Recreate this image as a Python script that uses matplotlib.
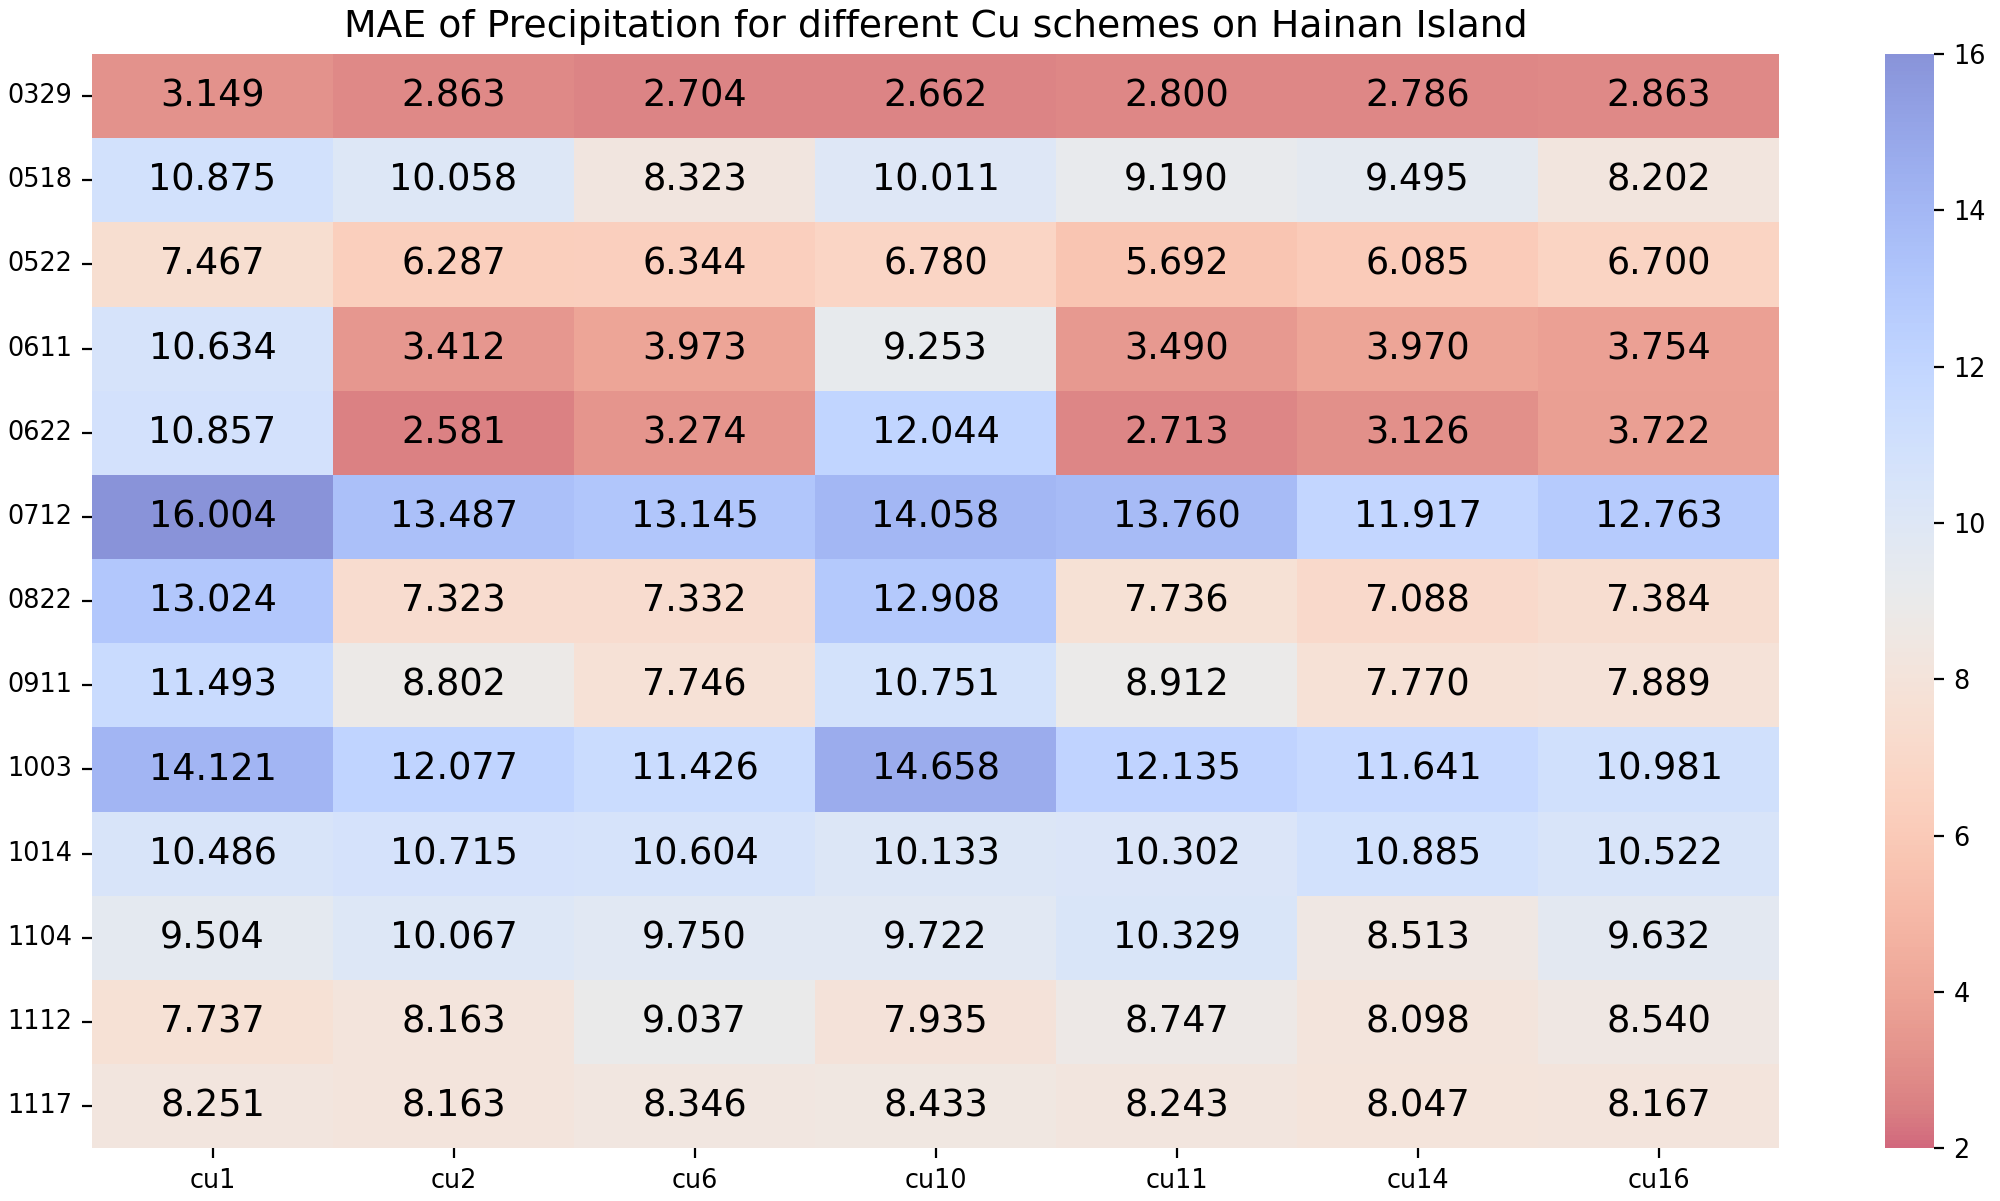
import matplotlib
matplotlib.use("Agg")
import matplotlib.pyplot as plt
import seaborn as sns
import numpy as np
import pandas as pd

dates = ["0329", "0518", "0522", "0611", "0622", "0712", "0822",
         "0911", "1003", "1014", "1104", "1112", "1117"]
schemes = ["cu1", "cu2", "cu6", "cu10", "cu11", "cu14", "cu16"]

cu1 = [3.149, 10.875, 7.467, 10.634, 10.857, 16.004, 13.024, 11.493, 14.121, 10.486, 9.504, 7.737, 8.251]
cu2 = [2.863, 10.058, 6.287, 3.412, 2.581, 13.487, 7.323, 8.802, 12.077, 10.715, 10.067, 8.163, 8.163]
cu6 = [2.704, 8.323, 6.344, 3.973, 3.274, 13.145, 7.332, 7.746, 11.426, 10.604, 9.750, 9.037, 8.346]
cu10 = [2.662, 10.011, 6.780, 9.253, 12.044, 14.058, 12.908, 10.751, 14.658, 10.133, 9.722, 7.935, 8.433]
cu11 = [2.800, 9.190, 5.692, 3.490, 2.713, 13.760, 7.736, 8.912, 12.135, 10.302, 10.329, 8.747, 8.243]
cu14 = [2.786, 9.495, 6.085, 3.970, 3.126, 11.917, 7.088, 7.770, 11.641, 10.885, 8.513, 8.098, 8.047]
cu16 = [2.863, 8.202, 6.700, 3.754, 3.722, 12.763, 7.384, 7.889, 10.981, 10.522, 9.632, 8.540, 8.167]

df = pd.DataFrame({"cu1": cu1, "cu2": cu2, "cu6": cu6, "cu10": cu10,
                   "cu11": cu11, "cu14": cu14, "cu16": cu16}, index=dates)

fig = plt.figure(figsize=(10, 6.005), dpi=200)
ax = fig.add_axes([0.046, 0.044, 0.8435, 0.911])
cax = fig.add_axes([0.9425, 0.044, 0.0245, 0.911])

sns.heatmap(df, ax=ax, cbar_ax=cax, cmap="coolwarm_r", alpha=0.6,
            vmin=2, vmax=16, annot=True, fmt=".3f",
            annot_kws={"fontsize": 13.2, "color": "black"})
ax.set_title("MAE of Precipitation for different Cu schemes on Hainan Island", fontsize=13.6)
ax.tick_params(axis="both", labelsize=9.2)
ax.set_yticklabels(dates, rotation=0)
cax.tick_params(labelsize=9.2)

fig.savefig("out.png", dpi=200)
